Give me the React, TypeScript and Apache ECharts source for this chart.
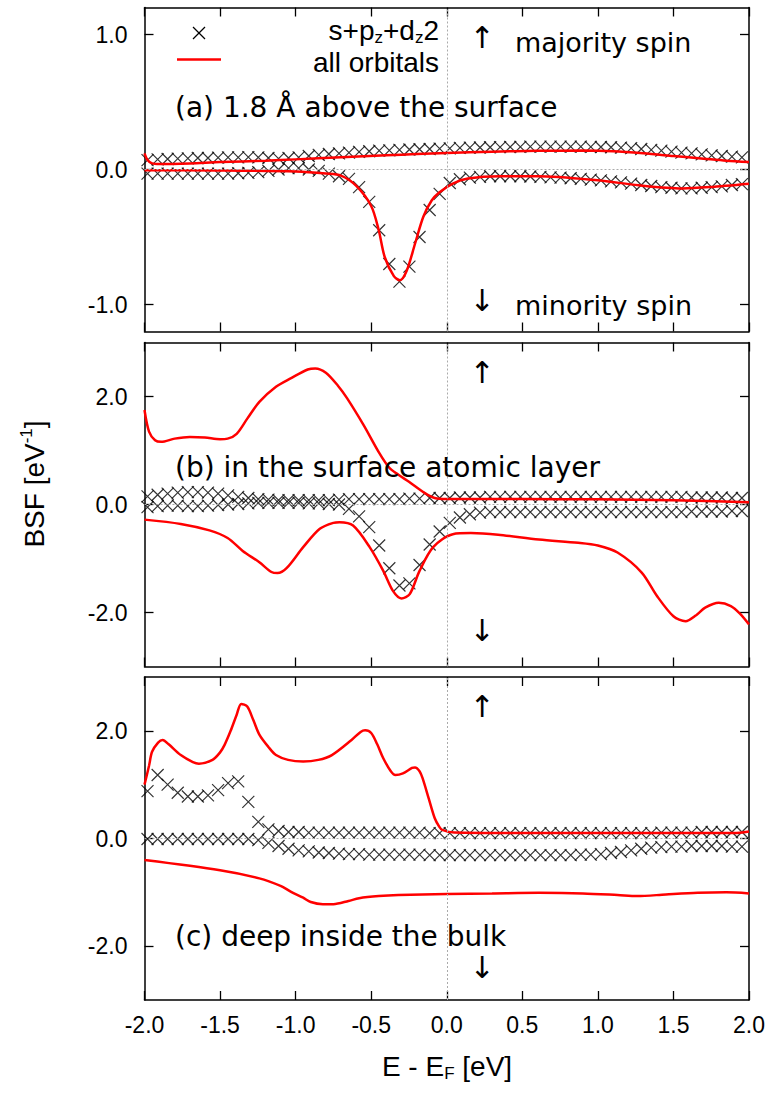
import React, { useEffect, useRef } from "react";
import * as echarts from "echarts";

// ---- energy grid of the cross (s+pz+dz2) points [eV] ----
const E_CROSS = [
  -1.98, -1.913, -1.847, -1.78, -1.713, -1.647, -1.58, -1.513, -1.447, -1.38,
  -1.313, -1.247, -1.18, -1.113, -1.047, -0.98, -0.913, -0.847, -0.78, -0.713,
  -0.647, -0.58, -0.513, -0.447, -0.38, -0.313, -0.247, -0.18, -0.113, -0.047,
  0.02, 0.087, 0.153, 0.22, 0.287, 0.353, 0.42, 0.487, 0.553, 0.62,
  0.687, 0.753, 0.82, 0.887, 0.953, 1.02, 1.087, 1.153, 1.22, 1.287,
  1.353, 1.42, 1.487, 1.553, 1.62, 1.687, 1.753, 1.82, 1.887, 1.953,
];

// ---- panel (a) ----
const A_MAJ_CROSS = [
  0.07, 0.075, 0.078, 0.08, 0.082, 0.085, 0.085, 0.088, 0.09, 0.09,
  0.092, 0.09, 0.085, 0.08, 0.085, 0.09, 0.1, 0.108, 0.115, 0.12,
  0.125, 0.13, 0.135, 0.14, 0.142, 0.145, 0.148, 0.15, 0.152, 0.155,
  0.157, 0.16, 0.162, 0.163, 0.165, 0.166, 0.167, 0.168, 0.17, 0.17,
  0.17, 0.17, 0.17, 0.17, 0.168, 0.167, 0.165, 0.162, 0.158, 0.152,
  0.145, 0.14, 0.132, 0.125, 0.12, 0.112, 0.105, 0.1, 0.095, 0.09,
];
const A_MIN_CROSS = [
  -0.03, -0.03, -0.03, -0.03, -0.03, -0.03, -0.03, -0.03, -0.03, -0.028,
  -0.025, -0.02, -0.01, 0.0, 0.01, 0.01, 0.0, -0.01, -0.03, -0.05,
  -0.07, -0.13, -0.24, -0.45, -0.7, -0.83, -0.72, -0.5, -0.3, -0.18,
  -0.1, -0.072, -0.06, -0.055, -0.05, -0.05, -0.05, -0.05, -0.052, -0.055,
  -0.058, -0.06, -0.065, -0.07, -0.075, -0.08, -0.088, -0.095, -0.105, -0.115,
  -0.122, -0.13, -0.135, -0.14, -0.14, -0.135, -0.13, -0.125, -0.115, -0.108,
];
const A_MAJ_LINE = [
  [-2.0, 0.12], [-1.98, 0.07], [-1.95, 0.045], [-1.9, 0.04], [-1.7, 0.045],
  [-1.5, 0.055], [-1.2, 0.065], [-1.0, 0.075], [-0.7, 0.09], [-0.4, 0.105],
  [-0.2, 0.115], [0.0, 0.122], [0.3, 0.132], [0.6, 0.138], [0.9, 0.14],
  [1.1, 0.135], [1.3, 0.12], [1.5, 0.1], [1.7, 0.08], [1.85, 0.065], [2.0, 0.055],
];
const A_MIN_LINE = [
  [-2.0, -0.005], [-1.5, -0.007], [-1.0, -0.015], [-0.8, -0.03], [-0.7, -0.045],
  [-0.6, -0.12], [-0.5, -0.27], [-0.45, -0.45], [-0.41, -0.65], [-0.35, -0.79],
  [-0.31, -0.82], [-0.265, -0.75], [-0.21, -0.55], [-0.155, -0.35], [-0.1, -0.23],
  [-0.05, -0.17], [0.04, -0.104], [0.14, -0.067], [0.35, -0.05], [0.6, -0.05],
  [1.0, -0.08], [1.27, -0.117], [1.56, -0.14], [1.74, -0.13], [2.0, -0.105],
];

// ---- panel (b) ----
const B_MAJ_CROSS = [
  0.15, 0.18, 0.2, 0.22, 0.23, 0.23, 0.22, 0.2, 0.17, 0.14,
  0.12, 0.1, 0.09, 0.08, 0.08, 0.08, 0.08, 0.08, 0.08, 0.09,
  0.1, 0.1, 0.1, 0.1, 0.1, 0.1, 0.11, 0.11, 0.12, 0.12,
  0.12, 0.13, 0.13, 0.13, 0.14, 0.14, 0.14, 0.14, 0.14, 0.14,
  0.14, 0.14, 0.14, 0.14, 0.14, 0.14, 0.14, 0.14, 0.14, 0.14,
  0.14, 0.14, 0.14, 0.14, 0.13, 0.13, 0.13, 0.13, 0.12, 0.12,
];
const B_MIN_CROSS = [
  -0.05, -0.03, -0.02, -0.02, -0.03, -0.03, -0.02, -0.01, 0.0, 0.01,
  0.02, 0.03, 0.03, 0.03, 0.03, 0.03, 0.02, 0.02, 0.01, 0.0,
  -0.08, -0.22, -0.42, -0.76, -1.18, -1.5, -1.46, -1.12, -0.74, -0.5,
  -0.34, -0.24, -0.18, -0.15, -0.14, -0.14, -0.14, -0.14, -0.14, -0.14,
  -0.14, -0.14, -0.14, -0.14, -0.14, -0.14, -0.14, -0.14, -0.14, -0.14,
  -0.14, -0.14, -0.14, -0.14, -0.13, -0.13, -0.13, -0.13, -0.12, -0.12,
];
const B_MAJ_LINE = [
  [-2.0, 1.75], [-1.97, 1.35], [-1.93, 1.19], [-1.89, 1.16], [-1.8, 1.22],
  [-1.7, 1.25], [-1.6, 1.24], [-1.5, 1.21], [-1.45, 1.22], [-1.39, 1.31],
  [-1.32, 1.59], [-1.24, 1.9], [-1.13, 2.18], [-1.03, 2.34], [-0.92, 2.5],
  [-0.87, 2.52], [-0.8, 2.44], [-0.72, 2.2], [-0.66, 1.97], [-0.55, 1.47],
  [-0.45, 0.97], [-0.38, 0.68], [-0.32, 0.55], [-0.25, 0.42], [-0.15, 0.22],
  [-0.08, 0.12], [0.0, 0.1], [0.5, 0.1], [1.0, 0.095], [1.5, 0.08], [2.0, 0.04],
];
const B_MIN_LINE = [
  [-2.0, -0.28], [-1.76, -0.36], [-1.57, -0.48], [-1.45, -0.62], [-1.35, -0.86],
  [-1.24, -1.07], [-1.16, -1.25], [-1.12, -1.27], [-1.06, -1.18], [-0.95, -0.79],
  [-0.84, -0.45], [-0.75, -0.34], [-0.71, -0.33], [-0.62, -0.39], [-0.51, -0.79],
  [-0.42, -1.23], [-0.356, -1.6], [-0.3, -1.74], [-0.245, -1.66], [-0.18, -1.23],
  [-0.09, -0.79], [0.04, -0.55], [0.16, -0.53], [0.34, -0.56], [0.61, -0.65],
  [0.87, -0.71], [1.0, -0.76], [1.13, -0.89], [1.29, -1.26], [1.39, -1.69],
  [1.5, -2.07], [1.58, -2.16], [1.65, -2.05], [1.71, -1.91], [1.8, -1.82],
  [1.88, -1.88], [1.94, -2.02], [2.0, -2.22],
];

// ---- panel (c) ----
const C_MAJ_CROSS = [
  0.88, 1.18, 1.0, 0.85, 0.78, 0.78, 0.8, 0.9, 1.03, 1.06,
  0.68, 0.31, 0.17, 0.14, 0.12, 0.12, 0.11, 0.11, 0.11, 0.11,
  0.11, 0.11, 0.11, 0.11, 0.11, 0.11, 0.11, 0.11, 0.1, 0.1,
  0.1, 0.1, 0.1, 0.1, 0.1, 0.1, 0.1, 0.1, 0.1, 0.1,
  0.1, 0.1, 0.1, 0.1, 0.1, 0.1, 0.1, 0.1, 0.1, 0.1,
  0.1, 0.11, 0.11, 0.11, 0.11, 0.12, 0.12, 0.12, 0.12, 0.12,
];
const C_MIN_CROSS = [
  -0.01, -0.01, -0.01, -0.01, -0.01, -0.01, -0.01, -0.01, -0.01, -0.01,
  -0.01, -0.03, -0.08, -0.14, -0.19, -0.22, -0.24, -0.26, -0.27, -0.28,
  -0.29, -0.29, -0.3, -0.3, -0.3, -0.3, -0.3, -0.3, -0.31, -0.31,
  -0.31, -0.31, -0.31, -0.31, -0.31, -0.31, -0.31, -0.31, -0.31, -0.31,
  -0.31, -0.31, -0.31, -0.3, -0.3, -0.29, -0.27, -0.25, -0.22, -0.19,
  -0.17, -0.16, -0.15, -0.15, -0.14, -0.14, -0.14, -0.14, -0.15, -0.15,
];
const C_MAJ_LINE = [
  [-2.0, 1.0], [-1.97, 1.35], [-1.95, 1.61], [-1.91, 1.78], [-1.88, 1.83],
  [-1.84, 1.75], [-1.76, 1.55], [-1.68, 1.42], [-1.64, 1.39], [-1.55, 1.46],
  [-1.5, 1.6], [-1.47, 1.74], [-1.43, 2.0], [-1.39, 2.3], [-1.36, 2.5],
  [-1.32, 2.45], [-1.28, 2.2], [-1.24, 1.93], [-1.18, 1.7], [-1.13, 1.55],
  [-1.05, 1.46], [-0.95, 1.43], [-0.85, 1.46], [-0.76, 1.55], [-0.63, 1.83],
  [-0.57, 1.98], [-0.54, 2.01], [-0.5, 1.96], [-0.46, 1.75], [-0.42, 1.49],
  [-0.37, 1.25], [-0.34, 1.18], [-0.29, 1.21], [-0.23, 1.31], [-0.21, 1.32],
  [-0.18, 1.25], [-0.16, 1.12], [-0.12, 0.75], [-0.08, 0.38], [-0.05, 0.22],
  [-0.03, 0.16], [0.05, 0.11], [0.5, 0.1], [1.0, 0.1], [1.9, 0.1], [2.0, 0.13],
];
const C_MIN_LINE = [
  [-2.0, -0.4], [-1.5, -0.59], [-1.24, -0.74], [-1.1, -0.88], [-1.03, -0.99],
  [-0.95, -1.1], [-0.9, -1.18], [-0.82, -1.22], [-0.75, -1.22], [-0.65, -1.16],
  [-0.58, -1.11], [-0.45, -1.07], [-0.32, -1.05], [0.0, -1.03], [0.3, -1.02],
  [0.61, -1.01], [0.9, -1.02], [1.13, -1.05], [1.26, -1.07], [1.45, -1.04],
  [1.66, -1.01], [1.85, -1.0], [2.0, -1.02],
];

// ---- axes ----
const X_RANGE = [-2, 2];
const X_STEP = 0.5;
const Y_RANGE_A = [-1.2, 1.2];
const Y_TICKS_A = [-1, 0, 1];
const Y_RANGE_BC = [-3, 3];
const Y_TICKS_BC = [-2, 0, 2];

const PANEL_LABELS = [
  "(a) 1.8 Å above the surface",
  "(b) in the surface atomic layer",
  "(c) deep inside the bulk",
];
const LEGEND_CROSS = "{n|s+p}{s|z}{n|+d}{s|z}{n|2}";
const LEGEND_LINE = "all orbitals";
const Y_TITLE = "{n|BSF [eV}{p|-1}{n|]}";
const X_TITLE = "{n|E - E}{s|F}{n| [eV]}";

const LBL_FONT = '"Liberation Sans", Arial, sans-serif';
const PNL_FONT = '"DejaVu Sans", sans-serif';
const CROSS = "path://M0,0L10,10M10,0L0,10";

const GRIDS = [
  { top: 7.5, height: 324 },
  { top: 342.5, height: 324 },
  { top: 677, height: 323 },
];
const GRID_LEFT = 144.5;
const GRID_WIDTH = 604.5;

function buildOption() {
  const panels = [
    { yr: Y_RANGE_A, yt: Y_TICKS_A, maj: A_MAJ_CROSS, min: A_MIN_CROSS, lmaj: A_MAJ_LINE, lmin: A_MIN_LINE },
    { yr: Y_RANGE_BC, yt: Y_TICKS_BC, maj: B_MAJ_CROSS, min: B_MIN_CROSS, lmaj: B_MAJ_LINE, lmin: B_MIN_LINE },
    { yr: Y_RANGE_BC, yt: Y_TICKS_BC, maj: C_MAJ_CROSS, min: C_MIN_CROSS, lmaj: C_MAJ_LINE, lmin: C_MIN_LINE },
  ];
  const axisLine = { show: true, onZero: false, lineStyle: { color: "#000", width: 1.5 } };
  const tickStyle = { color: "#000", width: 1.3 };
  const grid: any[] = [];
  const xAxis: any[] = [];
  const yAxis: any[] = [];
  const series: any[] = [];

  panels.forEach((p, i) => {
    grid.push({ left: GRID_LEFT, width: GRID_WIDTH, top: GRIDS[i].top, height: GRIDS[i].height, containLabel: false });
    ["bottom", "top"].forEach((pos) => {
      xAxis.push({
        type: "value", gridIndex: i, position: pos, min: X_RANGE[0], max: X_RANGE[1], interval: X_STEP,
        axisLine, axisTick: { show: true, inside: true, length: 9, lineStyle: tickStyle },
        splitLine: { show: false },
        axisLabel: {
          show: pos === "bottom" && i === 2, formatter: (v: number) => v.toFixed(1),
          fontFamily: LBL_FONT, fontSize: 23, color: "#000", margin: 13,
          showMinLabel: true, showMaxLabel: true,
        },
      });
    });
    ["left", "right"].forEach((pos) => {
      yAxis.push({
        type: "value", gridIndex: i, position: pos, min: p.yr[0], max: p.yr[1],
        axisLine, axisTick: { show: true, inside: true, length: 9, lineStyle: tickStyle, customValues: p.yt },
        splitLine: { show: false },
        axisLabel: {
          show: pos === "left", customValues: p.yt, formatter: (v: number) => v.toFixed(1),
          fontFamily: LBL_FONT, fontSize: 23, color: "#000", margin: 17,
        },
      });
    });
    const xi = 2 * i, yi = 2 * i;
    const crossStyle = { color: "rgba(0,0,0,0)", borderColor: "#000", borderWidth: 1.2 };
    series.push({
      type: "scatter", xAxisIndex: xi, yAxisIndex: yi, symbol: CROSS, symbolSize: 12,
      itemStyle: crossStyle, data: E_CROSS.map((e, k) => [e, p.maj[k]]), z: 2,
      markLine: {
        silent: true, symbol: "none", label: { show: false },
        lineStyle: { color: "#aaa", width: 1, type: [2, 2] },
        data: [{ xAxis: 0 }, { yAxis: 0 }],
      },
    });
    series.push({
      type: "scatter", xAxisIndex: xi, yAxisIndex: yi, symbol: CROSS, symbolSize: 12,
      itemStyle: crossStyle, data: E_CROSS.map((e, k) => [e, p.min[k]]), z: 2,
    });
    [p.lmaj, p.lmin].forEach((d) => {
      series.push({
        type: "line", xAxisIndex: xi, yAxisIndex: yi, data: d, smooth: 0.3,
        showSymbol: false, symbol: "none", lineStyle: { color: "#ff0000", width: 2.5 }, z: 3,
      });
    });
  });

  const txt = (x: number, y: number, text: string, font: string, align = "left", extra: any = {}) => ({
    type: "text", x, y, silent: true, z: 10, ...extra,
    style: { text, font, fill: "#000", align, textAlign: align, verticalAlign: "middle", textVerticalAlign: "middle", ...(extra.style || {}) },
  });
  const richLbl = {
    n: { fontFamily: LBL_FONT, fontSize: 28, lineHeight: 32, verticalAlign: "middle" },
    s: { fontFamily: LBL_FONT, fontSize: 17, lineHeight: 17, verticalAlign: "bottom" },
    p: { fontFamily: LBL_FONT, fontSize: 17, lineHeight: 17, verticalAlign: "top" },
  };

  const graphic: any[] = [
    // legend
    { type: "line", silent: true, shape: { x1: 193, y1: 27, x2: 205, y2: 39 }, style: { stroke: "#000", lineWidth: 1.2 } },
    { type: "line", silent: true, shape: { x1: 205, y1: 27, x2: 193, y2: 39 }, style: { stroke: "#000", lineWidth: 1.2 } },
    { type: "line", silent: true, shape: { x1: 177, y1: 59.5, x2: 221, y2: 59.5 }, style: { stroke: "#ff0000", lineWidth: 2.5 } },
    txt(439, 30, LEGEND_CROSS, `28px ${LBL_FONT}`, "right", { style: { rich: richLbl } }),
    txt(439, 62, LEGEND_LINE, `28px ${LBL_FONT}`, "right", { style: { lineHeight: 24 } }),
    // panel labels
    txt(175, 107, PANEL_LABELS[0], `28px ${PNL_FONT}`),
    txt(175, 467, PANEL_LABELS[1], `28px ${PNL_FONT}`),
    txt(175, 936, PANEL_LABELS[2], `28px ${PNL_FONT}`),
    // spin arrows
    txt(482, 37, "↑", `30px ${PNL_FONT}`, "center"),
    txt(515, 42, "majority spin", `27px ${PNL_FONT}`),
    txt(482, 300, "↓", `30px ${PNL_FONT}`, "center"),
    txt(515, 305, "minority spin", `27px ${PNL_FONT}`),
    txt(482, 372, "↑", `30px ${PNL_FONT}`, "center"),
    txt(482, 630, "↓", `30px ${PNL_FONT}`, "center"),
    txt(482, 706, "↑", `30px ${PNL_FONT}`, "center"),
    txt(482, 967, "↓", `30px ${PNL_FONT}`, "center"),
    // axis titles
    txt(34, 484, Y_TITLE, `28px ${LBL_FONT}`, "center", { rotation: Math.PI / 2, style: { rich: richLbl } }),
    txt(447, 1066, X_TITLE, `28px ${LBL_FONT}`, "center", { style: { rich: richLbl } }),
  ];

  return {
    animation: false,
    backgroundColor: "#fff",
    grid, xAxis, yAxis, series, graphic,
  };
}

export default function App() {
  const ref = useRef<HTMLDivElement>(null);
  useEffect(() => {
    if (!ref.current) return;
    const chart = echarts.init(ref.current, null, { renderer: "svg" });
    chart.setOption(buildOption() as any);
    return () => chart.dispose();
  }, []);
  return (
    <div
      ref={ref}
      style={{ position: "fixed", left: 0, top: 0, width: 771, height: 1093, background: "#fff" }}
    />
  );
}
